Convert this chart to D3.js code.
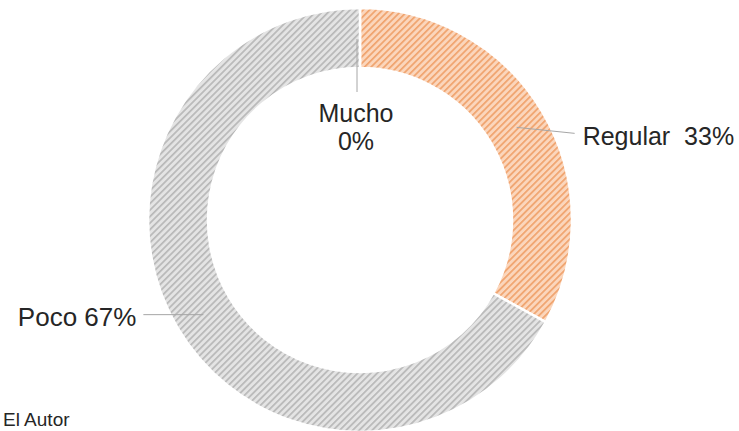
<!DOCTYPE html>
<html>
<head>
<meta charset="utf-8">
<script src="https://cdn.jsdelivr.net/npm/d3@7"></script>
<style>
  html, body { margin: 0; padding: 0; background: #fff; }
  svg { display: block; }
  text { font-family: "Liberation Sans", Arial, sans-serif; fill: #262626; }
</style>
</head>
<body>
<svg id="chart" width="739" height="431"></svg>
<script>
// Survey answers, share of respondents (%)
const categories = ["Mucho", "Regular", "Poco"];
const values = [0, 33, 67];
const percentLabels = ["0%", "33%", "67%"];
const sourceNote = "El Autor";

const width = 739, height = 431;
const cx = 360, cy = 220;
const outerR = 212, innerR = 152;

const svg = d3.select("#chart");
const defs = svg.append("defs");

// Hatched fills: light base with darker upward diagonal stripes
const fills = {
  Mucho:   { base: "#8eb4e3", line: "#5b8fd0" },
  Regular: { base: "#fbd6bc", line: "#f0a36d" },
  Poco:    { base: "#e4e4e4", line: "#b8b8b8" }
};
categories.forEach(c => {
  const p = defs.append("pattern")
    .attr("id", "hatch-" + c)
    .attr("patternUnits", "userSpaceOnUse")
    .attr("width", 4.6).attr("height", 4.6)
    .attr("patternTransform", "rotate(45)");
  p.append("rect").attr("width", 4.6).attr("height", 4.6).attr("fill", fills[c].base);
  p.append("rect").attr("x", 0).attr("width", 1.7).attr("height", 4.6).attr("fill", fills[c].line);
});

const data = categories.map((c, i) => ({ name: c, value: values[i], label: percentLabels[i] }));

const pie = d3.pie().sort(null).value(d => d.value).startAngle(0).endAngle(2 * Math.PI);
const arcs = pie(data);
const arc = d3.arc().innerRadius(innerR).outerRadius(outerR);
const midArc = d3.arc().innerRadius((innerR + outerR) / 2).outerRadius((innerR + outerR) / 2);

const g = svg.append("g").attr("transform", `translate(${cx},${cy})`);

g.selectAll("path.slice")
  .data(arcs)
  .join("path")
  .attr("class", "slice")
  .attr("d", arc)
  .attr("fill", d => `url(#hatch-${d.data.name})`)
  .attr("stroke", "#fff")
  .attr("stroke-width", 2.5)
  .attr("stroke-linejoin", "round");

// Leader lines and data labels
const leaderColor = "#a6a6a6";
const fontSize = 25;

arcs.forEach(d => {
  const [mx, my] = midArc.centroid(d);
  if (d.data.name === "Mucho") {
    g.append("line")
      .attr("x1", mx - 3).attr("y1", my + 1)
      .attr("x2", mx - 3).attr("y2", my + 54)
      .attr("stroke", leaderColor).attr("stroke-width", 1);
    const t = g.append("text")
      .attr("text-anchor", "middle")
      .attr("font-size", fontSize);
    t.append("tspan").attr("x", mx - 4).attr("y", my + 84).text(d.data.name);
    t.append("tspan").attr("x", mx - 4).attr("y", my + 112).text(d.data.label);
  } else if (d.data.name === "Regular") {
    g.append("line")
      .attr("x1", mx).attr("y1", my)
      .attr("x2", mx + 58).attr("y2", my + 6)
      .attr("stroke", leaderColor).attr("stroke-width", 1);
    g.append("text")
      .attr("x", mx + 66).attr("y", my + 18)
      .attr("font-size", fontSize)
      .attr("xml:space", "preserve")
      .text(d.data.name + "  " + d.data.label);
  } else {
    g.append("line")
      .attr("x1", mx).attr("y1", my + 2)
      .attr("x2", mx - 60).attr("y2", my + 2)
      .attr("stroke", leaderColor).attr("stroke-width", 1);
    g.append("text")
      .attr("x", mx - 67).attr("y", my + 13)
      .attr("text-anchor", "end")
      .attr("font-size", fontSize + 1)
      .text(d.data.name + " " + d.data.label);
  }
});

// Source note, bottom-left
svg.append("text")
  .attr("x", 3).attr("y", 426)
  .attr("font-size", 19)
  .text(sourceNote);
</script>
</body>
</html>
